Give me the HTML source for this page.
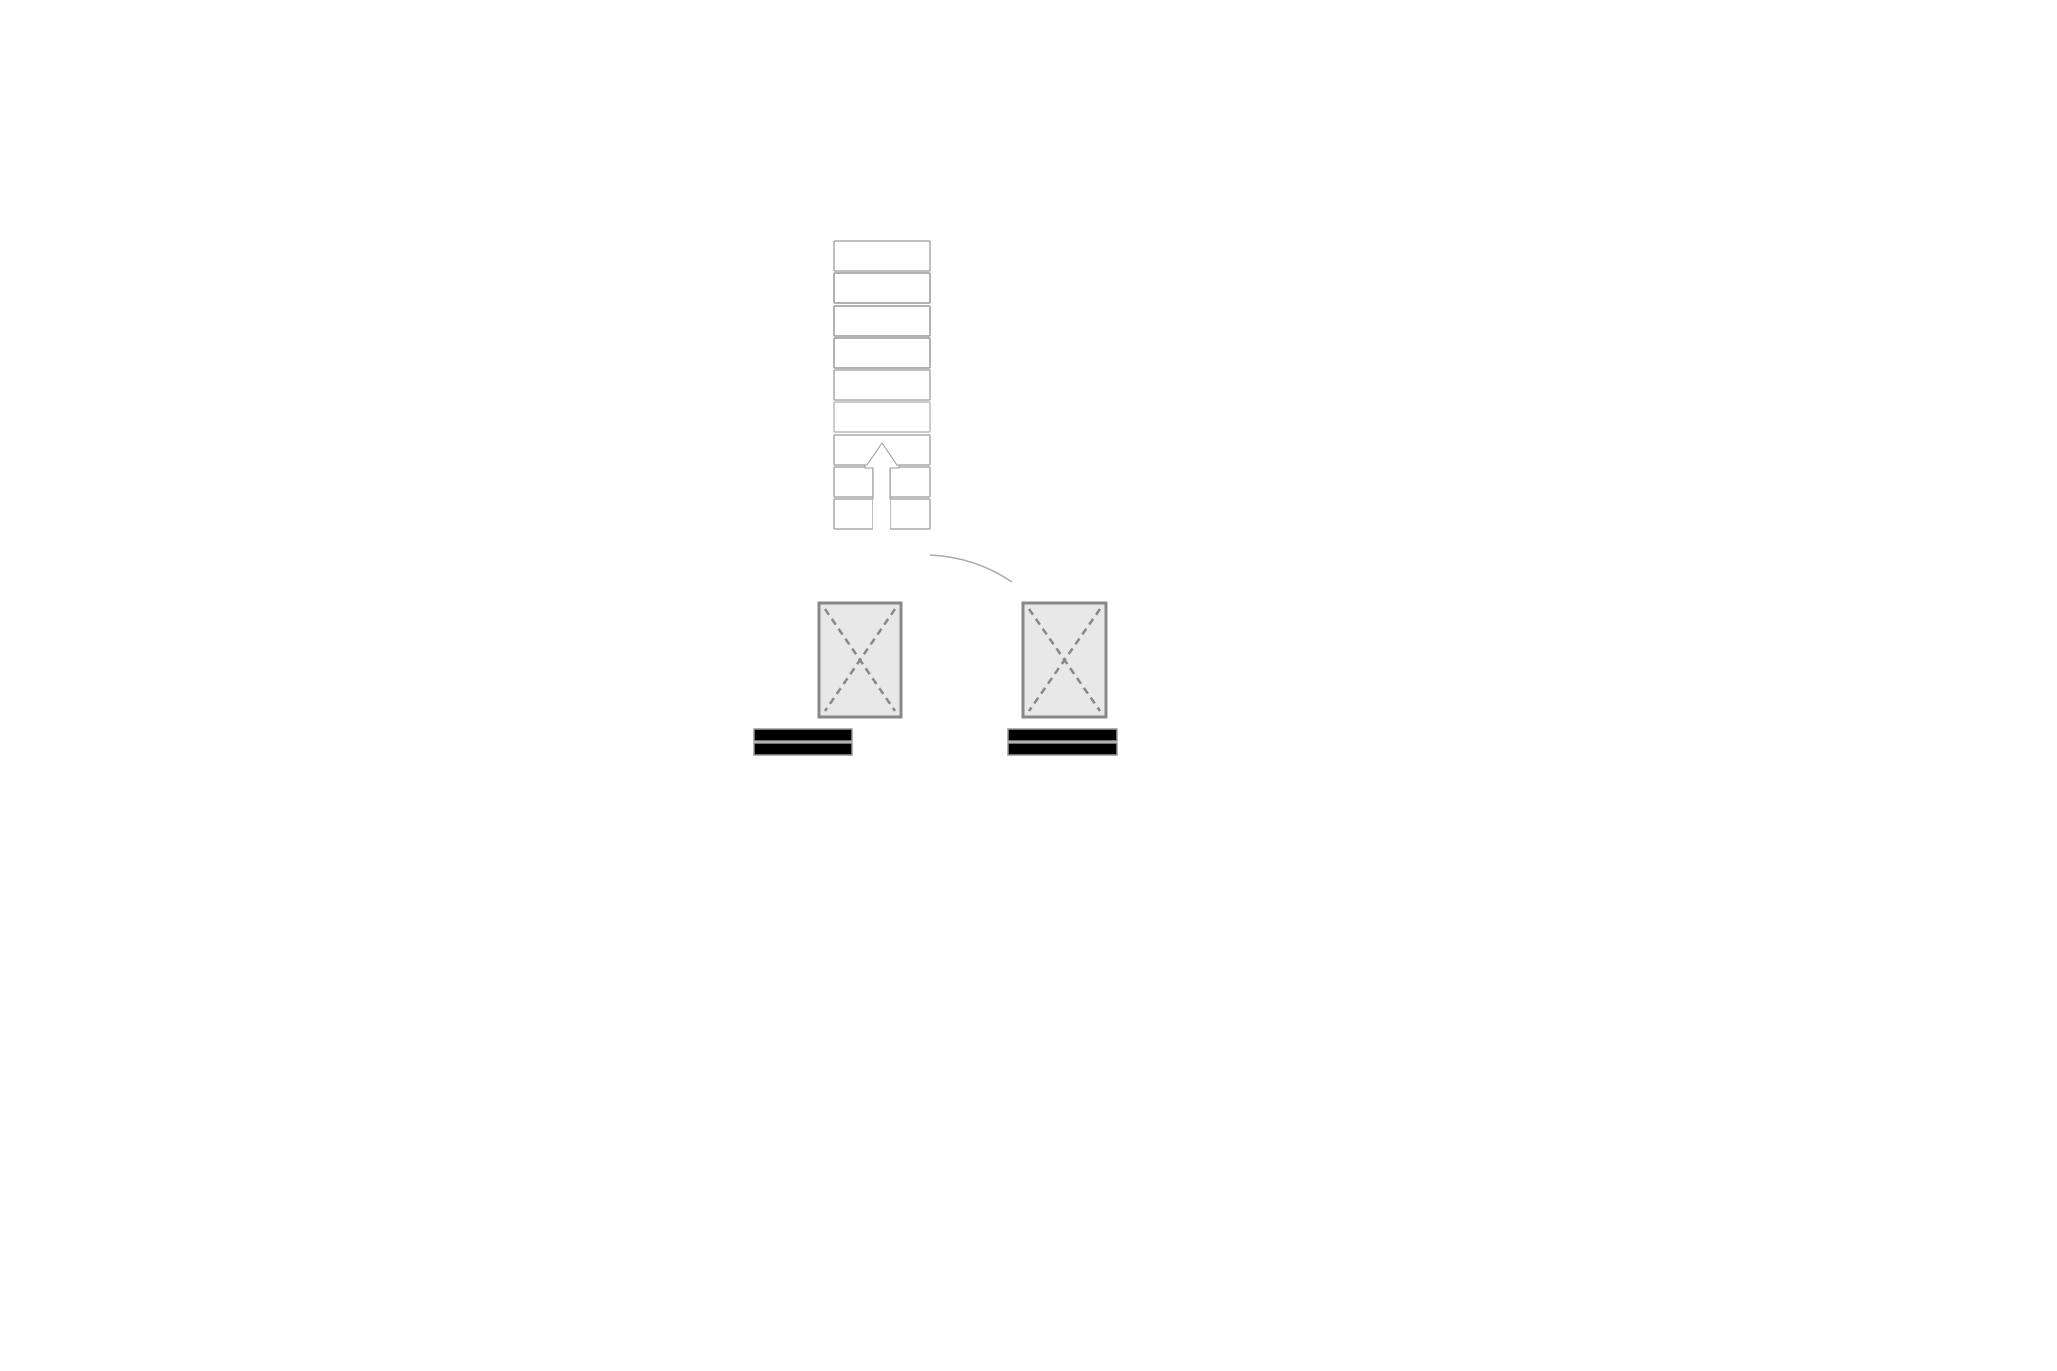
<!DOCTYPE html>
<html><head><meta charset="utf-8"><style>
html,body{margin:0;padding:0;background:#fff;width:2057px;height:1371px;overflow:hidden}
</style></head><body>
<svg width="2057" height="1371" viewBox="0 0 2057 1371" xmlns="http://www.w3.org/2000/svg">
<g fill="#fff" stroke="#aaa" stroke-width="1.5">
<rect x="834" y="241" width="96" height="30" rx="1"/>
<rect x="834" y="273" width="96" height="30" rx="1" stroke="#999"/>
<rect x="834" y="306" width="96" height="30" rx="1" stroke="#999"/>
<rect x="834" y="338" width="96" height="30" rx="1" stroke="#999"/>
<rect x="834" y="370" width="96" height="30" rx="1"/>
<rect x="834" y="402" width="96" height="30" rx="1" stroke="#bbb"/>
<rect x="834" y="435" width="96" height="30" rx="1"/>
<rect x="834" y="467" width="39" height="30" rx="1"/>
<rect x="890" y="467" width="40" height="30" rx="1"/>
<rect x="834" y="499" width="39" height="30" rx="1"/>
<rect x="890" y="499" width="40" height="30" rx="1"/>
</g>
<path d="M873,531 L873,468 L865,468 L865,464 L867,464 L882,443 L897,464 L899,464 L899,468 L890,468 L890,531 Z" fill="#fff" stroke="none"/>
<path d="M873,499 L873,468 L865,468 L865,465 L867,465 L882,443 L897,465 L899,465 L899,468 L890,468 L890,499" fill="none" stroke="#999" stroke-width="1"/>
<path d="M930,555 Q975,557 1012,582" fill="none" stroke="#aaa" stroke-width="1.5"/>
<g stroke="#888" stroke-width="3" fill="#e8e8e8">
<rect x="819" y="603" width="82" height="114"/>
<rect x="1023" y="603" width="83" height="114"/>
</g>
<g stroke="#888" stroke-width="2.5" stroke-dasharray="7,5" fill="none">
<line x1="825" y1="609" x2="895" y2="711"/>
<line x1="895" y1="609" x2="825" y2="711"/>
<line x1="1029" y1="609" x2="1100" y2="711"/>
<line x1="1100" y1="609" x2="1029" y2="711"/>
</g>
<g fill="#000" stroke="#999" stroke-width="1.5">
<rect x="754" y="729" width="98" height="12"/>
<rect x="754" y="743" width="98" height="12"/>
<rect x="1008" y="729" width="109" height="12"/>
<rect x="1008" y="743" width="109" height="12"/>
</g>
</svg>
</body></html>
